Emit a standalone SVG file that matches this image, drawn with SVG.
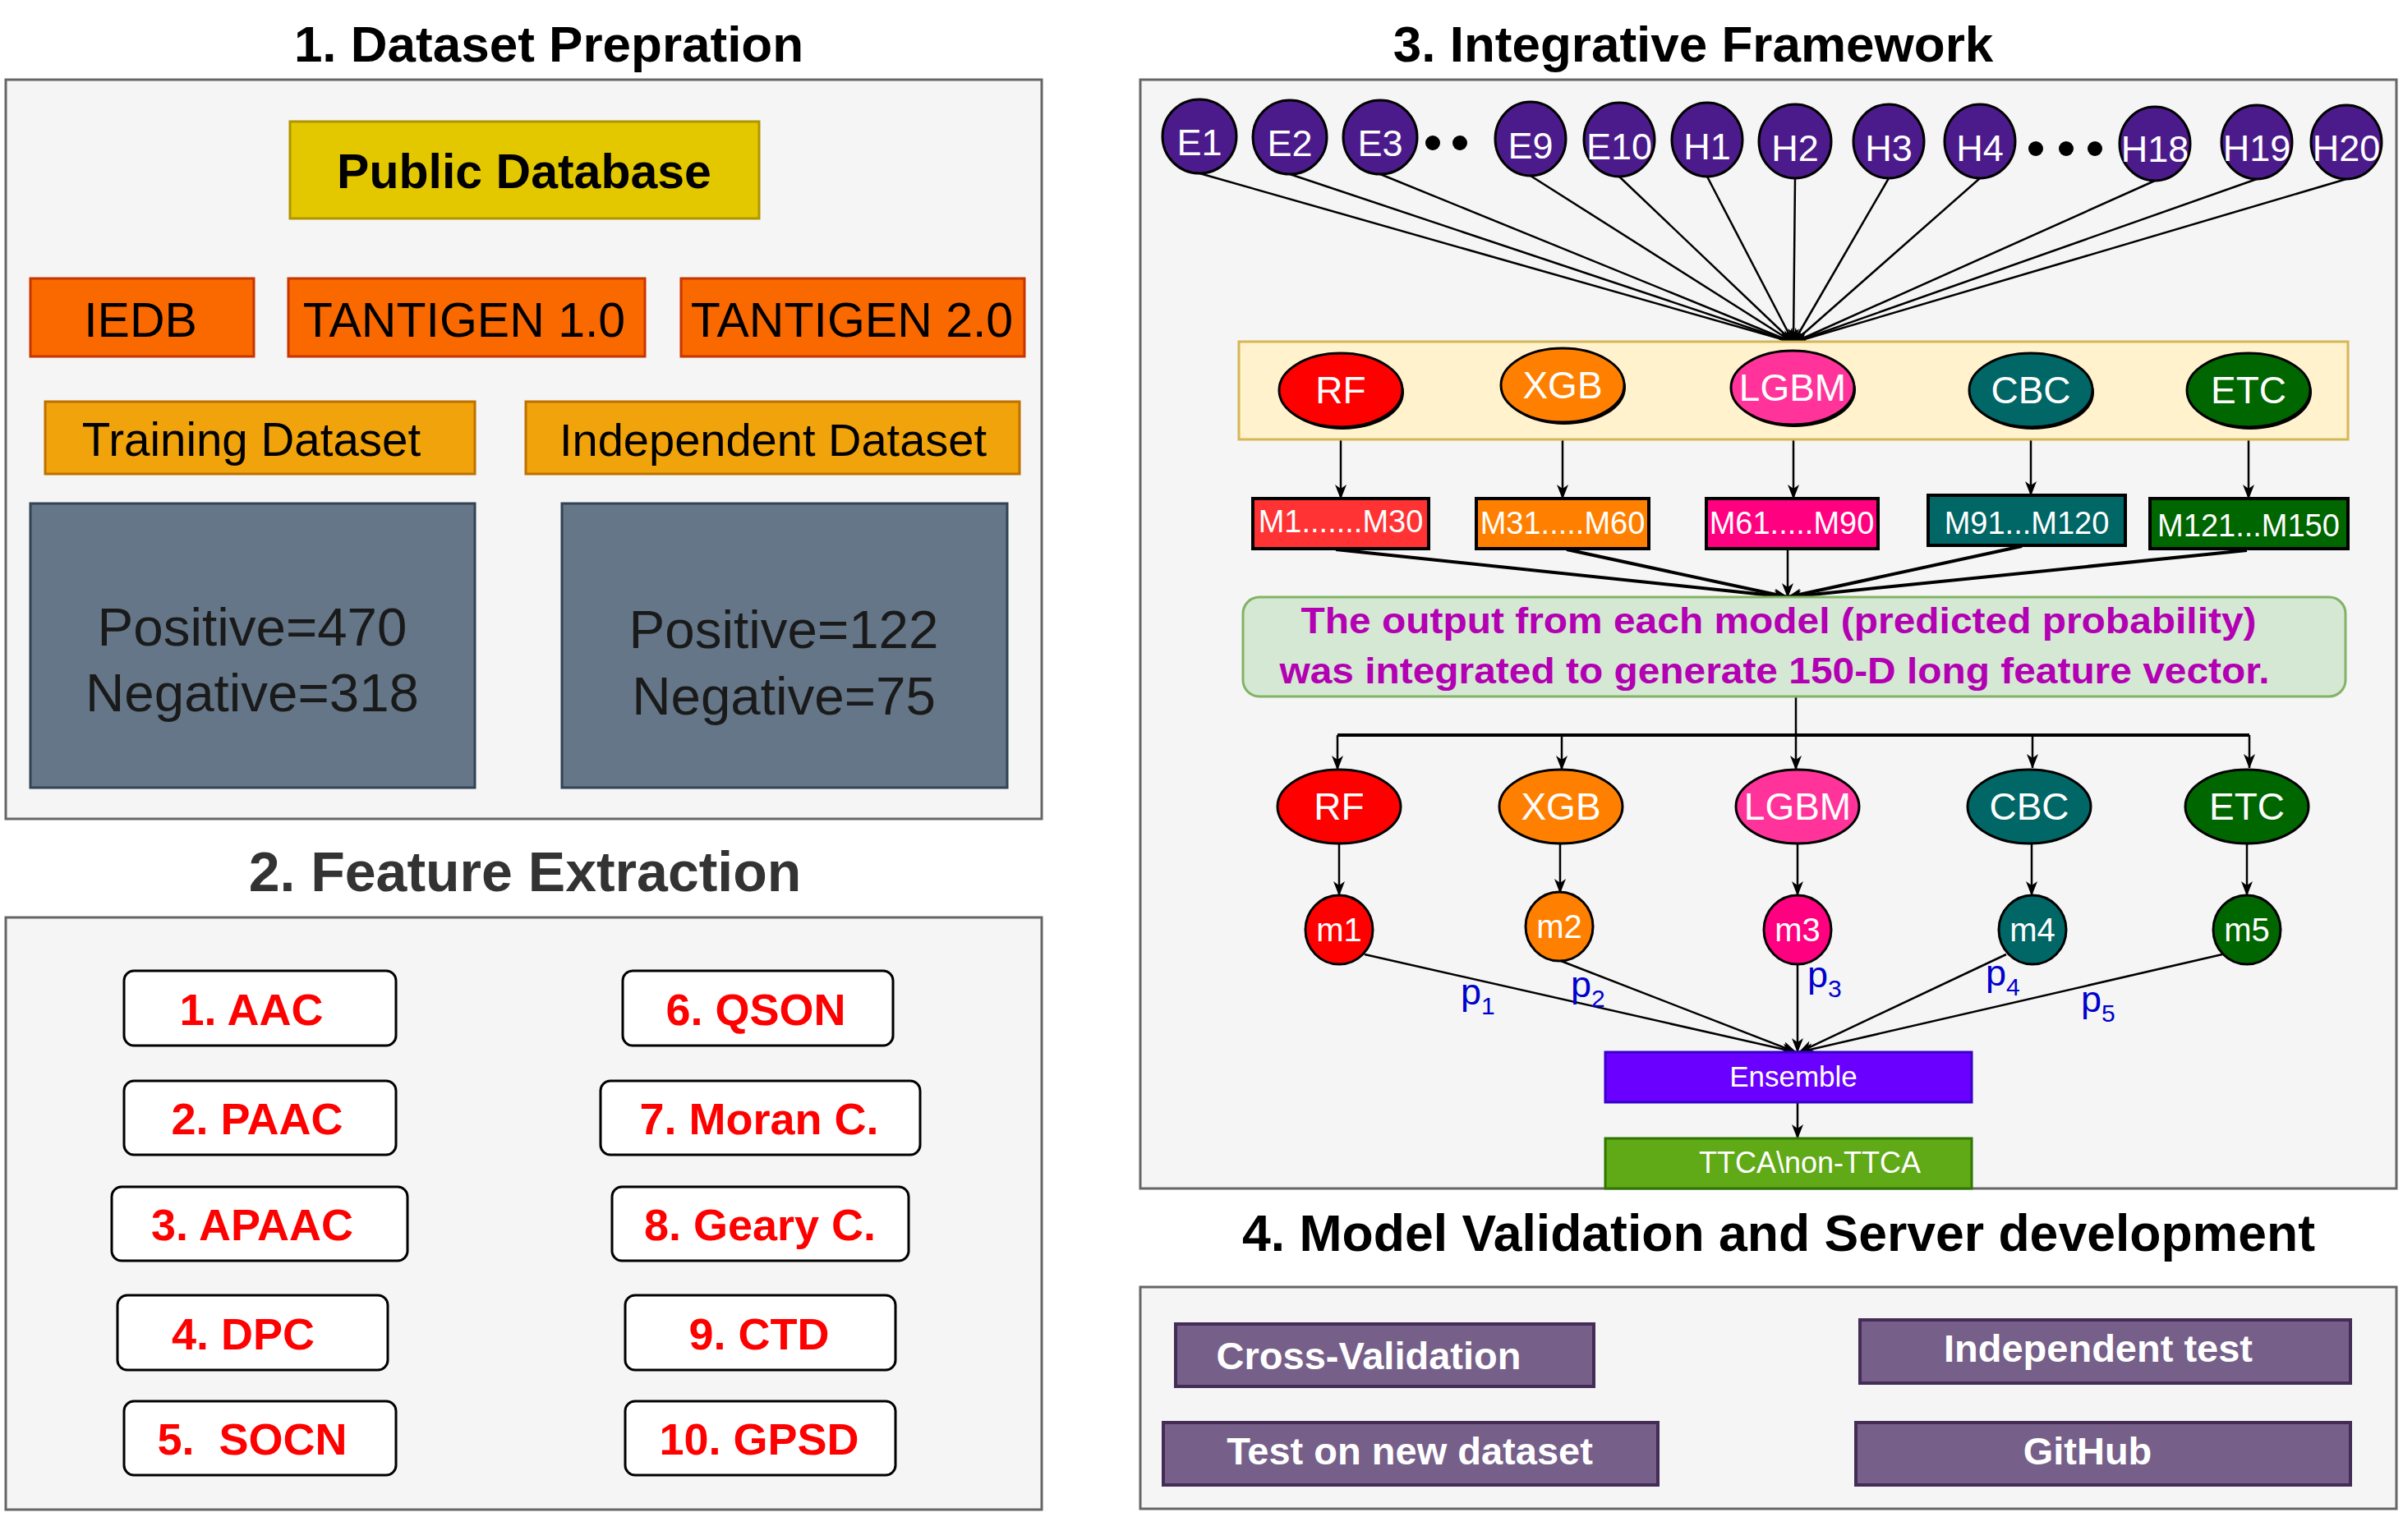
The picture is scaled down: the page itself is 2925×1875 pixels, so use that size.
<svg xmlns="http://www.w3.org/2000/svg" width="2925" height="1875" viewBox="0 0 2925 1875">
<defs>
<marker id="arr" markerWidth="18" markerHeight="14" refX="17" refY="7" orient="auto" markerUnits="userSpaceOnUse"><path d="M0,0 L18,7 L0,14 L5,7 Z" fill="#000"/></marker>
</defs>
<style>
text{font-family:"Liberation Sans",Arial,Helvetica,sans-serif}
.title{font-weight:bold;text-anchor:middle}
.panel{fill:#f5f5f5;stroke:#666666;stroke-width:3}
.c{text-anchor:middle}
.b{font-weight:bold}
.wt{fill:#ffffff}
.src{fill:#fa6800;stroke:#c73500;stroke-width:3}
.ds{fill:#f0a30a;stroke:#bd7000;stroke-width:3}
.cnt{fill:#647687;stroke:#314354;stroke-width:3}
.feat{fill:#ffffff;stroke:#000000;stroke-width:3}
.ft{fill:#ff0000;font-weight:bold;font-size:54px;text-anchor:middle}
.enc{fill:#4c1b8b;stroke:#000;stroke-width:3}
.enct{fill:#fff;font-size:45px;text-anchor:middle}
.mdl{stroke:#000;stroke-width:3}
.mt{fill:#fff;font-size:46px;text-anchor:middle}
.mb{stroke:#000;stroke-width:4}
.mbt{fill:#fff;font-size:38px;text-anchor:middle}
.sm{fill:#fff;font-size:40px;text-anchor:middle}
.btn{fill:#76608a;stroke:#432d57;stroke-width:4}
.btt{fill:#fff;font-weight:bold;font-size:47px;text-anchor:middle}
.ln{stroke:#000;stroke-width:2.5;fill:none}
.lnt{stroke:#000;stroke-width:4;fill:none}
.pl{fill:#0000cc;font-size:45px}
.dot{fill:#000}
</style>
<rect x="0" y="0" width="2925" height="1875" fill="#ffffff"/>

<!-- Titles -->
<text class="title" x="668" y="75" font-size="62">1. Dataset Prepration</text>
<text class="title" x="639" y="1085" font-size="68" fill="#333333">2. Feature Extraction</text>
<text class="title" x="2061" y="75" font-size="62">3. Integrative Framework</text>
<text class="title" x="2165" y="1523" font-size="62.5">4. Model Validation and Server development</text>

<!-- Panels -->
<rect id="panel1" class="panel" x="7" y="97" width="1261" height="900"/>
<rect id="panel2" class="panel" x="7" y="1117" width="1261" height="721"/>
<rect id="panel3" class="panel" x="1388" y="97" width="1529" height="1350"/>
<rect id="panel4" class="panel" x="1388" y="1567" width="1529" height="270"/>

<!-- Section 1 -->
<g id="public-db"><rect x="353" y="148" width="571" height="118" fill="#e3c800" stroke="#b09500" stroke-width="3"/><text class="c b" x="638" y="229" font-size="59">Public Database</text></g>
<g id="iedb"><rect class="src" x="37" y="339" width="272" height="95"/><text class="c" x="171" y="410" font-size="59">IEDB</text></g>
<g id="tantigen1"><rect class="src" x="351" y="339" width="434" height="95"/><text class="c" x="565" y="410" font-size="59">TANTIGEN 1.0</text></g>
<g id="tantigen2"><rect class="src" x="829" y="339" width="418" height="95"/><text class="c" x="1037" y="410" font-size="59">TANTIGEN 2.0</text></g>
<g id="training"><rect class="ds" x="55" y="489" width="523" height="88"/><text class="c" x="306" y="555" font-size="56.5">Training Dataset</text></g>
<g id="independent"><rect class="ds" x="640" y="489" width="601" height="88"/><text class="c" x="941" y="555" font-size="56">Independent Dataset</text></g>
<g id="train-counts"><rect class="cnt" x="37" y="613" width="541" height="346"/><text class="c" x="307" y="786" font-size="65.5" fill="#1a1a1a">Positive=470</text><text class="c" x="307" y="866" font-size="65.5" fill="#1a1a1a">Negative=318</text></g>
<g id="indep-counts"><rect class="cnt" x="684" y="613" width="542" height="346"/><text class="c" x="954" y="789" font-size="65.5" fill="#1a1a1a">Positive=122</text><text class="c" x="954" y="870" font-size="65.5" fill="#1a1a1a">Negative=75</text></g>

<!-- Section 2 -->
<g id="f1"><rect class="feat" x="151" y="1182" width="331" height="91" rx="12"/><text class="ft" x="306" y="1248">1. AAC</text></g>
<g id="f2"><rect class="feat" x="151" y="1316" width="331" height="90" rx="12"/><text class="ft" x="313" y="1381">2. PAAC</text></g>
<g id="f3"><rect class="feat" x="136" y="1445" width="360" height="90" rx="12"/><text class="ft" x="307" y="1510">3. APAAC</text></g>
<g id="f4"><rect class="feat" x="143" y="1577" width="329" height="91" rx="12"/><text class="ft" x="296" y="1643">4. DPC</text></g>
<g id="f5"><rect class="feat" x="151" y="1706" width="331" height="90" rx="12"/><text class="ft" x="307" y="1771" xml:space="preserve">5.  SOCN</text></g>
<g id="f6"><rect class="feat" x="758" y="1182" width="329" height="91" rx="12"/><text class="ft" x="920" y="1248">6. QSON</text></g>
<g id="f7"><rect class="feat" x="731" y="1316" width="389" height="90" rx="12"/><text class="ft" x="924" y="1381">7. Moran C.</text></g>
<g id="f8"><rect class="feat" x="745" y="1445" width="361" height="90" rx="12"/><text class="ft" x="925" y="1510">8. Geary C.</text></g>
<g id="f9"><rect class="feat" x="761" y="1577" width="329" height="91" rx="12"/><text class="ft" x="924" y="1643">9. CTD</text></g>
<g id="f10"><rect class="feat" x="761" y="1706" width="329" height="90" rx="12"/><text class="ft" x="924" y="1771">10. GPSD</text></g>

<!-- Section 3 connectors -->
<g id="connectors">
<line class="ln" x1="1460" y1="211" x2="2183" y2="417" marker-end="url(#arr)"/>
<line class="ln" x1="1570" y1="212" x2="2183" y2="417" marker-end="url(#arr)"/>
<line class="ln" x1="1680" y1="212" x2="2183" y2="417" marker-end="url(#arr)"/>
<line class="ln" x1="1863" y1="214" x2="2183" y2="417" marker-end="url(#arr)"/>
<line class="ln" x1="1971" y1="215" x2="2183" y2="417" marker-end="url(#arr)"/>
<line class="ln" x1="2078" y1="215" x2="2183" y2="417" marker-end="url(#arr)"/>
<line class="ln" x1="2185" y1="217" x2="2183" y2="417" marker-end="url(#arr)"/>
<line class="ln" x1="2299" y1="217" x2="2183" y2="417" marker-end="url(#arr)"/>
<line class="ln" x1="2410" y1="217" x2="2183" y2="417" marker-end="url(#arr)"/>
<line class="ln" x1="2623" y1="220" x2="2183" y2="417" marker-end="url(#arr)"/>
<line class="ln" x1="2747" y1="218" x2="2183" y2="417" marker-end="url(#arr)"/>
<line class="ln" x1="2856" y1="218" x2="2183" y2="417" marker-end="url(#arr)"/>

<line class="ln" x1="1632" y1="521" x2="1632" y2="607" marker-end="url(#arr)"/>
<line class="ln" x1="1902" y1="515" x2="1902" y2="607" marker-end="url(#arr)"/>
<line class="ln" x1="2183" y1="518" x2="2183" y2="607" marker-end="url(#arr)"/>
<line class="ln" x1="2472" y1="521" x2="2472" y2="603" marker-end="url(#arr)"/>
<line class="ln" x1="2737" y1="521" x2="2737" y2="607" marker-end="url(#arr)"/>

<line class="lnt" x1="1626" y1="669" x2="2176" y2="727" marker-end="url(#arr)"/>
<line class="lnt" x1="1907" y1="669" x2="2176" y2="727" marker-end="url(#arr)"/>
<line class="ln" x1="2176" y1="669" x2="2176" y2="727" marker-end="url(#arr)"/>
<line class="lnt" x1="2461" y1="665" x2="2176" y2="727" marker-end="url(#arr)"/>
<line class="lnt" x1="2735" y1="670" x2="2176" y2="727" marker-end="url(#arr)"/>

<line class="ln" x1="2186" y1="848" x2="2186" y2="895"/>
<line class="lnt" x1="1628" y1="895" x2="2738" y2="895"/>
<line class="ln" x1="1628" y1="895" x2="1628" y2="937" marker-end="url(#arr)"/>
<line class="ln" x1="1901" y1="895" x2="1901" y2="937" marker-end="url(#arr)"/>
<line class="ln" x1="2186" y1="895" x2="2186" y2="937" marker-end="url(#arr)"/>
<line class="ln" x1="2474" y1="895" x2="2474" y2="935" marker-end="url(#arr)"/>
<line class="ln" x1="2738" y1="895" x2="2738" y2="935" marker-end="url(#arr)"/>

<line class="ln" x1="1630" y1="1027" x2="1630" y2="1090" marker-end="url(#arr)"/>
<line class="ln" x1="1899" y1="1027" x2="1899" y2="1087" marker-end="url(#arr)"/>
<line class="ln" x1="2188" y1="1027" x2="2188" y2="1090" marker-end="url(#arr)"/>
<line class="ln" x1="2473" y1="1027" x2="2473" y2="1090" marker-end="url(#arr)"/>
<line class="ln" x1="2735" y1="1027" x2="2735" y2="1090" marker-end="url(#arr)"/>

<line class="ln" x1="1661" y1="1162" x2="2186" y2="1281" marker-end="url(#arr)"/>
<line class="ln" x1="1900" y1="1170" x2="2186" y2="1281" marker-end="url(#arr)"/>
<line class="ln" x1="2188" y1="1174" x2="2188" y2="1281" marker-end="url(#arr)"/>
<line class="ln" x1="2442" y1="1162" x2="2190" y2="1281" marker-end="url(#arr)"/>
<line class="ln" x1="2705" y1="1162" x2="2190" y2="1281" marker-end="url(#arr)"/>

<line class="ln" x1="2188" y1="1342" x2="2188" y2="1386" marker-end="url(#arr)"/>
</g>

<!-- Section 3 nodes -->
<g id="E1"><circle class="enc" cx="1460" cy="166" r="45"/><text class="enct" x="1460" y="189">E1</text></g>
<g id="E2"><circle class="enc" cx="1570" cy="167" r="45"/><text class="enct" x="1570" y="190">E2</text></g>
<g id="E3"><circle class="enc" cx="1680" cy="167" r="45"/><text class="enct" x="1680" y="190">E3</text></g>
<g id="dots1"><circle class="dot" cx="1744" cy="174" r="9"/><circle class="dot" cx="1777" cy="174" r="9"/></g>
<g id="E9"><ellipse class="enc" cx="1863" cy="169" rx="43" ry="45"/><text class="enct" x="1863" y="193">E9</text></g>
<g id="E10"><ellipse class="enc" cx="1971" cy="170" rx="43" ry="45"/><text class="enct" x="1971" y="194" font-size="42">E10</text></g>
<g id="H1"><ellipse class="enc" cx="2078" cy="170" rx="43" ry="45"/><text class="enct" x="2078" y="194">H1</text></g>
<g id="H2"><ellipse class="enc" cx="2185" cy="172" rx="44" ry="45"/><text class="enct" x="2185" y="196">H2</text></g>
<g id="H3"><ellipse class="enc" cx="2299" cy="172" rx="43" ry="45"/><text class="enct" x="2299" y="196">H3</text></g>
<g id="H4"><ellipse class="enc" cx="2410" cy="172" rx="43" ry="45"/><text class="enct" x="2410" y="196">H4</text></g>
<g id="dots2"><circle class="dot" cx="2478" cy="181" r="9"/><circle class="dot" cx="2515" cy="181" r="9"/><circle class="dot" cx="2550" cy="181" r="9"/></g>
<g id="H18"><ellipse class="enc" cx="2623" cy="175" rx="43" ry="45"/><text class="enct" x="2623" y="197" font-size="39">H18</text></g>
<g id="H19"><ellipse class="enc" cx="2747" cy="173" rx="43" ry="45"/><text class="enct" x="2747" y="196" font-size="39">H19</text></g>
<g id="H20"><ellipse class="enc" cx="2856" cy="173" rx="43" ry="45"/><text class="enct" x="2856" y="196" font-size="39">H20</text></g>

<g id="classifiers"><rect x="1508" y="416" width="1350" height="119" fill="#fff2cc" stroke="#d6b656" stroke-width="3"/></g>
<g id="RF1"><ellipse cx="1634" cy="478" rx="75" ry="45" fill="#000"/><ellipse class="mdl" cx="1632" cy="475" rx="75" ry="45" fill="#ff0000"/><text class="mt" x="1632" y="491">RF</text></g>
<g id="XGB1"><ellipse cx="1904" cy="472" rx="75" ry="45" fill="#000"/><ellipse class="mdl" cx="1902" cy="469" rx="75" ry="45" fill="#ff8000"/><text class="mt" x="1902" y="485">XGB</text></g>
<g id="LGBM1"><ellipse cx="2184" cy="475" rx="75" ry="45" fill="#000"/><ellipse class="mdl" cx="2182" cy="472" rx="75" ry="45" fill="#ff3399"/><text class="mt" x="2182" y="488">LGBM</text></g>
<g id="CBC1"><ellipse cx="2474" cy="478" rx="75" ry="45" fill="#000"/><ellipse class="mdl" cx="2472" cy="475" rx="75" ry="45" fill="#006666"/><text class="mt" x="2472" y="491">CBC</text></g>
<g id="ETC1"><ellipse cx="2739" cy="478" rx="75" ry="45" fill="#000"/><ellipse class="mdl" cx="2737" cy="475" rx="75" ry="45" fill="#006600"/><text class="mt" x="2737" y="491">ETC</text></g>

<g id="M1"><rect class="mb" x="1525" y="607" width="214" height="61" fill="#ff3333"/><text class="mbt" x="1632" y="648">M1.......M30</text></g>
<g id="M31"><rect class="mb" x="1797" y="607" width="210" height="61" fill="#ff8000"/><text class="mbt" x="1902" y="650">M31.....M60</text></g>
<g id="M61"><rect class="mb" x="2077" y="607" width="209" height="61" fill="#ff0080"/><text class="mbt" x="2181" y="650">M61.....M90</text></g>
<g id="M91"><rect class="mb" x="2347" y="603" width="240" height="61" fill="#006666"/><text class="mbt" x="2467" y="650">M91...M120</text></g>
<g id="M121"><rect class="mb" x="2617" y="607" width="241" height="61" fill="#006600"/><text class="mbt" x="2737" y="653">M121...M150</text></g>

<g id="integration"><rect x="1513" y="727" width="1342" height="121" rx="20" fill="#d5e8d4" stroke="#82b366" stroke-width="3"/>
<text class="c b" x="2165" y="771" font-size="45" fill="#b300b3" textLength="1163" lengthAdjust="spacingAndGlyphs">The output from each model (predicted probability)</text>
<text class="c b" x="2160" y="832" font-size="45" fill="#b300b3" textLength="1205" lengthAdjust="spacingAndGlyphs">was integrated to generate 150-D long feature vector.</text></g>

<g id="RF2"><ellipse class="mdl" cx="1630" cy="982" rx="75" ry="45" fill="#ff0000"/><text class="mt" x="1630" y="998">RF</text></g>
<g id="XGB2"><ellipse class="mdl" cx="1900" cy="982" rx="75" ry="45" fill="#ff8000"/><text class="mt" x="1900" y="998">XGB</text></g>
<g id="LGBM2"><ellipse class="mdl" cx="2188" cy="982" rx="75" ry="45" fill="#ff3399"/><text class="mt" x="2188" y="998">LGBM</text></g>
<g id="CBC2"><ellipse class="mdl" cx="2470" cy="982" rx="75" ry="45" fill="#006666"/><text class="mt" x="2470" y="998">CBC</text></g>
<g id="ETC2"><ellipse class="mdl" cx="2735" cy="982" rx="75" ry="45" fill="#006600"/><text class="mt" x="2735" y="998">ETC</text></g>

<g id="m1"><ellipse class="mdl" cx="1630" cy="1132" rx="41" ry="42" fill="#ff0000"/><text class="sm" x="1630" y="1146">m1</text></g>
<g id="m2"><ellipse class="mdl" cx="1898" cy="1128" rx="41" ry="42" fill="#ff8000"/><text class="sm" x="1898" y="1142">m2</text></g>
<g id="m3"><ellipse class="mdl" cx="2188" cy="1132" rx="41" ry="42" fill="#ff0080"/><text class="sm" x="2188" y="1146">m3</text></g>
<g id="m4"><ellipse class="mdl" cx="2474" cy="1132" rx="41" ry="42" fill="#006666"/><text class="sm" x="2474" y="1146">m4</text></g>
<g id="m5"><ellipse class="mdl" cx="2735" cy="1132" rx="41" ry="42" fill="#006600"/><text class="sm" x="2735" y="1146">m5</text></g>

<g id="plabels">
<text class="pl" x="1778" y="1223">p<tspan dy="12" font-size="30">1</tspan></text>
<text class="pl" x="1912" y="1214">p<tspan dy="12" font-size="30">2</tspan></text>
<text class="pl" x="2200" y="1202">p<tspan dy="12" font-size="30">3</tspan></text>
<text class="pl" x="2417" y="1200">p<tspan dy="12" font-size="30">4</tspan></text>
<text class="pl" x="2533" y="1232">p<tspan dy="12" font-size="30">5</tspan></text>
</g>

<g id="ensemble"><rect x="1954" y="1281" width="446" height="61" fill="#6a00ff" stroke="#3700cc" stroke-width="3"/><text class="c wt" x="2183" y="1323" font-size="35">Ensemble</text></g>
<g id="output"><rect x="1954" y="1386" width="446" height="61" fill="#60a917" stroke="#2d7600" stroke-width="3"/><text class="c wt" x="2203" y="1428" font-size="36">TTCA\non-TTCA</text></g>

<!-- Section 4 -->
<g id="cv"><rect class="btn" x="1431" y="1612" width="509" height="76"/><text class="btt" x="1666" y="1667">Cross-Validation</text></g>
<g id="indtest"><rect class="btn" x="2264" y="1607" width="597" height="77"/><text class="btt" x="2554" y="1658">Independent test</text></g>
<g id="newdata"><rect class="btn" x="1416" y="1732" width="602" height="76"/><text class="btt" x="1716" y="1783">Test on new dataset</text></g>
<g id="github"><rect class="btn" x="2259" y="1732" width="602" height="76"/><text class="btt" x="2541" y="1783">GitHub</text></g>
</svg>
